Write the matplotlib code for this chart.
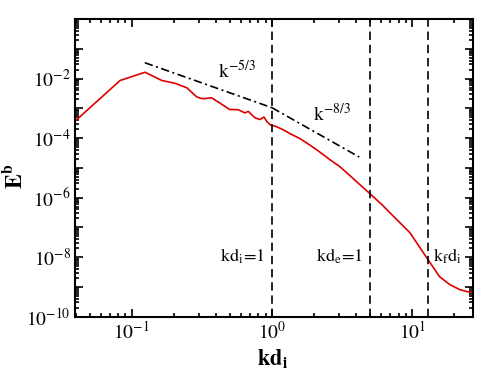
import matplotlib
matplotlib.use("Agg")
import matplotlib.pyplot as plt
from matplotlib.ticker import FixedLocator, LogLocator, NullFormatter, FuncFormatter
import numpy as np

# spectrum
k_vals = [0.0394, 0.0826, 0.1245, 0.164, 0.204, 0.247, 0.290, 0.307, 0.324,
          0.371, 0.426, 0.50, 0.575, 0.642, 0.678, 0.757, 0.821, 0.877, 0.92,
          0.98, 1.06, 1.197, 1.343, 1.585, 1.8, 2.08, 2.59, 3.05, 3.60, 4.24,
          5.00, 6.09, 7.28, 9.63, 12.7, 15.7, 18.6, 21.9, 24.9, 27.0]
E_vals = [3.7e-4, 8.6e-3, 1.63e-2, 8.6e-3, 6.9e-3, 4.9e-3, 2.45e-3, 2.2e-3, 2.1e-3,
          2.25e-3, 1.5e-3, 9.1e-4, 9.0e-4, 7.0e-4, 7.9e-4, 4.8e-4, 4.2e-4, 5.1e-4, 3.6e-4,
          2.7e-4, 2.5e-4, 1.93e-4, 1.42e-4, 9.6e-5, 6.5e-5, 4.1e-5, 1.89e-5, 1.10e-5, 5.5e-6, 2.73e-6,
          1.36e-6, 5.8e-7, 2.48e-7, 6.7e-8, 9.6e-9, 2.2e-9, 1.19e-9, 8.1e-10, 6.9e-10, 6.5e-10]

# power-law guide lines (end points)
k_53 = [0.124, 1.0]
E_53 = [0.034, 1.05e-3]
k_83 = [1.0, 4.2]
E_83 = [1.05e-3, 2.3e-5]

# characteristic scales
k_marks = [1.0, 5.0, 13.0]
mark_labels = [r"$\mathrm{kd_i\!=\!1}$", r"$\mathrm{kd_e\!=\!1}$", r"$\mathrm{k_f d_i}$"]

plt.rcParams["font.family"] = "serif"
plt.rcParams["font.serif"] = ["Liberation Serif", "DejaVu Serif"]
plt.rcParams["mathtext.fontset"] = "stix"
plt.rcParams["lines.scale_dashes"] = False

fig = plt.figure(figsize=(4.98, 3.74), dpi=100)
ax = fig.add_axes([0.1506, 0.1532, 0.7984, 0.7960])

ax.plot(k_vals, E_vals, color="#dd0000", lw=1.2)
ax.plot(k_53, E_53, color="black", lw=1.2, dashes=(6, 2.5, 1.5, 2.5))
ax.plot(k_83, E_83, color="black", lw=1.2, dashes=(6, 2.5, 1.5, 2.5))
for km in k_marks:
    ax.axvline(km, color="black", lw=1.2, dashes=(6, 3.5))

ax.set_xscale("log")
ax.set_yscale("log")
ax.set_xlim(0.0394, 27.0)
ax.set_ylim(1e-10, 1)

ax.text(0.41, 1.75e-2, r"$\mathrm{k^{-5/3}}$", fontsize=14, ha="left", va="center")
ax.text(1.96, 6.6e-4, r"$\mathrm{k^{-8/3}}$", fontsize=14, ha="left", va="center")
ax.text(0.895, 7e-9, mark_labels[0], fontsize=13, ha="right", va="baseline")
ax.text(4.47, 7e-9, mark_labels[1], fontsize=13, ha="right", va="baseline")
ax.text(14.1, 7e-9, mark_labels[2], fontsize=13, ha="left", va="baseline")

ax.yaxis.set_major_locator(FixedLocator([10.0 ** e for e in range(-10, 1)]))
ax.yaxis.set_minor_locator(LogLocator(base=10, subs=np.arange(2, 10), numticks=20))
ax.yaxis.set_major_formatter(FuncFormatter(
    lambda v, p: r"$\mathrm{10^{%d}}$" % round(np.log10(v)) if round(np.log10(v)) % 2 == 0 and v < 0.5 else ""))
ax.yaxis.set_minor_formatter(NullFormatter())
ax.xaxis.set_major_formatter(FuncFormatter(lambda v, p: r"$\mathrm{10^{%d}}$" % round(np.log10(v))))
ax.xaxis.set_minor_formatter(NullFormatter())

ax.tick_params(which="both", direction="in", top=True, right=True, width=1.2, labelsize=14)
ax.tick_params(which="major", length=6, pad=3)
ax.tick_params(which="minor", length=3)
for s in ax.spines.values():
    s.set_linewidth(1.5)

ax.set_xlabel(r"$\mathbf{kd_i}$", fontsize=16)
ax.set_ylabel(r"$\mathbf{E^b}$", fontsize=16)
ax.xaxis.set_label_coords(0.498, -0.105)
ax.yaxis.set_label_coords(-0.121, 0.47)

fig.savefig("out.png", dpi=100)
